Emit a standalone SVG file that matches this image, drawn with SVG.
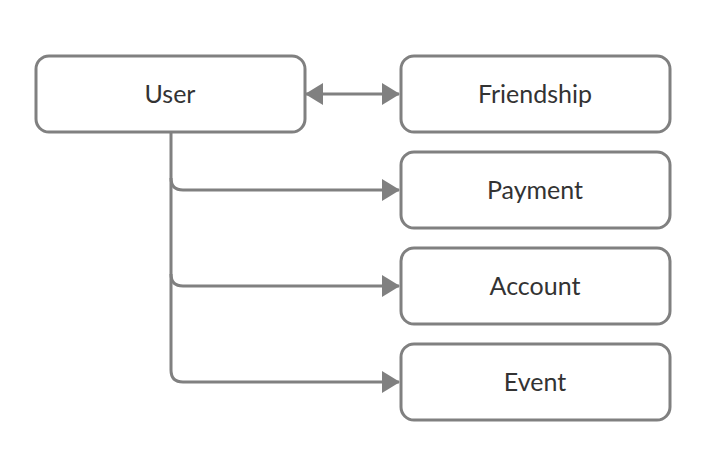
<svg xmlns="http://www.w3.org/2000/svg" width="725" height="476" viewBox="0 0 725 476">
<style>
.box{fill:#ffffff;stroke:#808080;stroke-width:3}
.lbl{font-family:Lato,"Open Sans",sans-serif;font-size:25px;fill:#333333;text-anchor:middle;dominant-baseline:central}
.conn{fill:none;stroke:#808080;stroke-width:3}
</style>
<defs>
<marker id="arr" viewBox="0 0 18 22" refX="17" refY="11" markerWidth="18" markerHeight="22" markerUnits="userSpaceOnUse" orient="auto-start-reverse">
<path d="M0,0 L18,11 L0,22 Z" fill="#808080"/>
</marker>
</defs>
<rect width="725" height="476" fill="#ffffff"/>
<g id="connectors">
<path class="conn" d="M306,94 L399,94" marker-start="url(#arr)" marker-end="url(#arr)"/>
<path class="conn" d="M171,132 L171,178 Q171,190 183,190 L399,190" marker-end="url(#arr)"/>
<path class="conn" d="M171,178 L171,274 Q171,286 183,286 L399,286" marker-end="url(#arr)"/>
<path class="conn" d="M171,274 L171,370 Q171,382 183,382 L399,382" marker-end="url(#arr)"/>
</g>
<g id="user"><rect class="box" x="36" y="56" width="269" height="76" rx="13"/><text class="lbl" x="170" y="93">User</text></g>
<g id="friendship"><rect class="box" x="401" y="56" width="269" height="76" rx="13"/><text class="lbl" x="535" y="93">Friendship</text></g>
<g id="payment"><rect class="box" x="401" y="152" width="269" height="76" rx="13"/><text class="lbl" x="535" y="189">Payment</text></g>
<g id="account"><rect class="box" x="401" y="248" width="269" height="76" rx="13"/><text class="lbl" x="535" y="285">Account</text></g>
<g id="event"><rect class="box" x="401" y="344" width="269" height="76" rx="13"/><text class="lbl" x="535" y="381">Event</text></g>
</svg>
